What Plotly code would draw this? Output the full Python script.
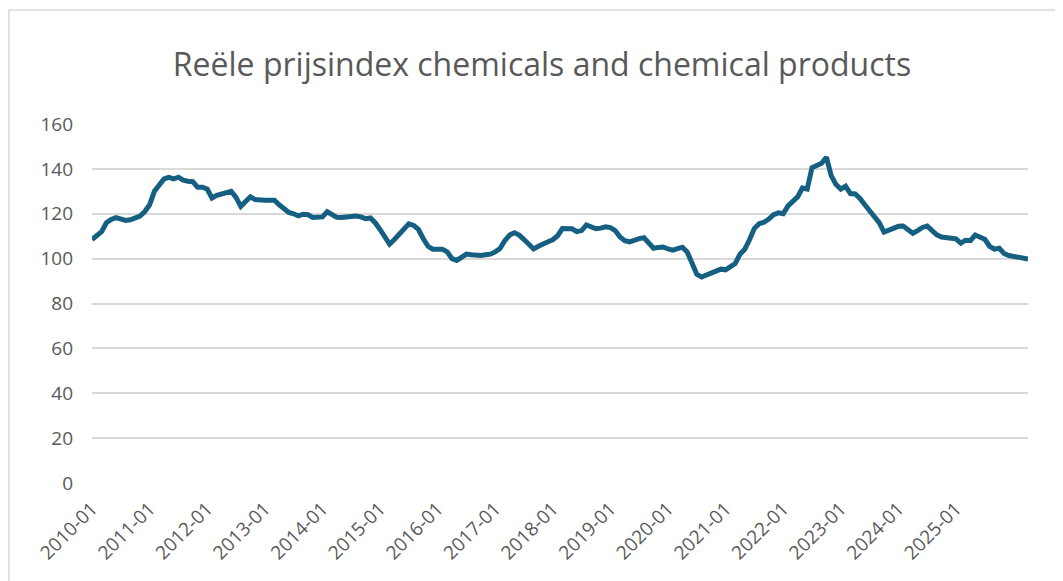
import plotly.graph_objects as go
import pandas as pd

# Monthly categories 2010-01 .. 2026-04
months = [d.strftime("%Y-%m") for d in pd.date_range("2010-01-01", periods=196, freq="MS")]

values = [
    108.5, 110.0, 112.0, 116.0, 117.5, 118.3, 117.5, 117.0, 117.3, 118.0, 119.0, 121.0,
    124.0, 130.0, 133.0, 135.5, 136.2, 135.5, 136.3, 135.0, 134.5, 134.3, 131.8, 131.8,
    131.0, 127.0, 128.2, 128.8, 129.5, 130.0, 127.3, 123.3, 125.5, 127.5, 126.3, 126.0,
    126.0, 126.0, 126.0, 124.0, 122.0, 120.6, 120.0, 119.1, 119.8, 119.6, 118.3, 118.4,
    118.6, 120.9, 119.5, 118.4, 118.3, 118.7, 119.0, 119.0, 118.6, 117.8, 118.1, 116.0,
    113.0, 109.5, 106.5, 108.5, 111.0, 113.2, 115.5, 114.8, 113.0, 109.0, 105.5, 104.2,
    104.2, 104.2, 103.0, 100.0, 99.2, 100.7, 102.0, 101.7, 101.3, 101.4, 101.7, 102.0,
    103.0, 104.5, 108.0, 110.5, 111.5, 110.5, 108.5, 106.5, 104.3, 105.5, 106.8, 107.5,
    108.4, 110.2, 113.4, 113.2, 113.3, 112.0, 112.5, 115.0, 114.0, 113.3, 113.6, 114.2,
    113.8, 112.5, 109.6, 108.0, 107.5, 108.4, 108.9, 109.3, 107.0, 104.6, 105.0, 105.2,
    104.3, 103.8, 104.5, 105.1, 103.0, 97.5, 93.0, 91.8, 92.8, 93.8, 94.6, 95.3,
    95.0, 96.3, 97.8, 102.0, 104.2, 108.5, 113.5, 115.6, 116.2, 117.6, 119.6, 120.4,
    120.0, 123.5, 125.5, 127.5, 131.5, 131.0, 140.5, 141.6, 142.5, 145.2, 137.0, 133.0,
    131.0, 132.3, 129.0, 128.8, 126.8, 124.0, 121.5, 118.7, 116.0, 111.8, 112.5, 113.5,
    114.4, 114.5, 112.7, 111.3, 112.5, 113.9, 114.5, 112.4, 110.6, 109.6, 109.1, 109.1,
    108.8, 106.9, 108.2, 108.0, 110.5, 109.8, 108.6, 105.5, 104.2, 104.6, 102.3, 101.4,
    100.9, 100.7, 100.4, 99.8,
]

tick_labels = [f"{y}-01" for y in range(2010, 2026)]
y_ticks = [0, 20, 40, 60, 80, 100, 120, 140, 160]

title_text = "Reële prijsindex chemicals and chemical products"

LINE = "#156082"
GRID = "#d9d9d9"
TXT = "#595959"
FONT = "Open Sans, Roboto, sans-serif"

fig = go.Figure()
fig.add_trace(go.Scatter(
    x=months, y=values, mode="lines",
    line=dict(color=LINE, width=5, shape="linear"),
    hoverinfo="x+y", showlegend=False,
))

# page is offset by the 8px body margin
OFF = 8
W, H = 1063 - OFF, 581 - OFF
L, T = 92 - OFF, 124 - OFF
R = 1063 - 1028
B = 581 - 483
PW, PH = W - L - R, H - T - B

fig.update_layout(
    width=W, height=H,
    margin=dict(l=L, r=R, t=T, b=B),
    paper_bgcolor="white", plot_bgcolor="white",
    title=dict(text=title_text, x=(542 - OFF) / W, xref="container", xanchor="center",
               y=1 - (65 - OFF) / H, yref="container", yanchor="middle",
               font=dict(family=FONT, size=32, color=TXT)),
    font=dict(family=FONT, color=TXT),
    xaxis=dict(
        type="category", range=[0, len(months) - 1],
        tickmode="array", tickvals=tick_labels, ticktext=tick_labels,
        tickangle=-45, tickfont=dict(size=19, color=TXT),
        showgrid=False, zeroline=False, showline=False, ticks="",
        ticklabelstandoff=10,
    ),
    yaxis=dict(
        range=[0, 160], tickvals=y_ticks, tickfont=dict(size=19, color=TXT),
        showgrid=True, gridcolor=GRID, gridwidth=1.5, zeroline=False,
        showline=False, ticks="", ticklabelstandoff=18,
    ),
    shapes=[dict(type="rect", xref="paper", yref="paper",
                 x0=(1 - L) / PW, x1=1.2,
                 y0=-0.5, y1=(H - B - (10 - OFF)) / PH,
                 line=dict(color=GRID, width=1.5), fillcolor="rgba(0,0,0,0)",
                 layer="below")],
)

fig.write_html("out.html")
